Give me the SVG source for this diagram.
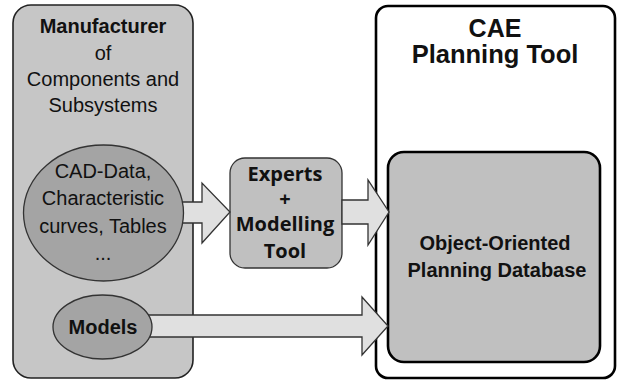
<svg xmlns="http://www.w3.org/2000/svg" width="617" height="380" viewBox="0 0 617 380">
<style>
.t{font-family:"Liberation Sans",Arial,sans-serif;font-size:20px;fill:#111;text-anchor:middle}
.b{font-weight:bold}
.e{font-family:"Open Sans","Liberation Sans",sans-serif;font-weight:bold;font-size:20px;fill:#111;text-anchor:middle}
.arr{fill:#e0e0e0;stroke:#333;stroke-width:1.3;stroke-linejoin:miter}
.ell{fill:#a4a4a4;stroke:#333;stroke-width:1.3}
</style>
<rect width="617" height="380" fill="#fff"/>
<g id="manufacturer">
<rect x="13" y="5" width="180" height="373" rx="18" fill="#c6c6c6" stroke="#222" stroke-width="1.6"/>
<text class="t b" x="103" y="33">Manufacturer</text>
<text class="t" x="103" y="60">of</text>
<text class="t" x="103" y="86">Components and</text>
<text class="t" x="103" y="112">Subsystems</text>
</g>
<g id="cae">
<rect x="376" y="6" width="239" height="372" rx="12" fill="#fff" stroke="#000" stroke-width="2.6"/>
<text class="t b" x="495" y="37" style="font-size:25px">CAE</text>
<text class="t b" x="495" y="63" style="font-size:25.5px">Planning Tool</text>
</g>
<g id="database">
<rect x="388" y="152" width="212" height="210" rx="16" fill="#c0c0c0" stroke="#000" stroke-width="2.6"/>
<text class="t b" x="495" y="250">Object-Oriented</text>
<text class="t b" x="497" y="277">Planning Database</text>
</g>
<g id="experts">
<rect x="230" y="158" width="112" height="110" rx="15" fill="#c0c0c0" stroke="#333" stroke-width="1.3"/>
<text class="e" x="285" y="181">Experts</text>
<text class="e" x="285" y="206">+</text>
<text class="e" x="285" y="231">Modelling</text>
<text class="e" x="285" y="258">Tool</text>
</g>
<g id="connectors">
<polygon class="arr" points="180,202 202,202 202,183 230,212 202,243 202,223 180,223"/>
<polygon class="arr" points="342,200 368,200 368,180 389,212 368,245 368,224 342,224"/>
<polygon class="arr" points="140,315 362,315 362,297 388,326 362,355 362,337 140,337"/>
</g>
<g id="cad-data">
<ellipse class="ell" cx="103.5" cy="213" rx="80" ry="68"/>
<text class="t" x="103" y="178">CAD-Data,</text>
<text class="t" x="103" y="205">Characteristic</text>
<text class="t" x="103" y="233">curves, Tables</text>
<text class="t" x="103" y="260">...</text>
</g>
<g id="models">
<ellipse class="ell" cx="102.5" cy="327" rx="49.5" ry="32"/>
<text class="t b" x="103" y="334">Models</text>
</g>
</svg>
